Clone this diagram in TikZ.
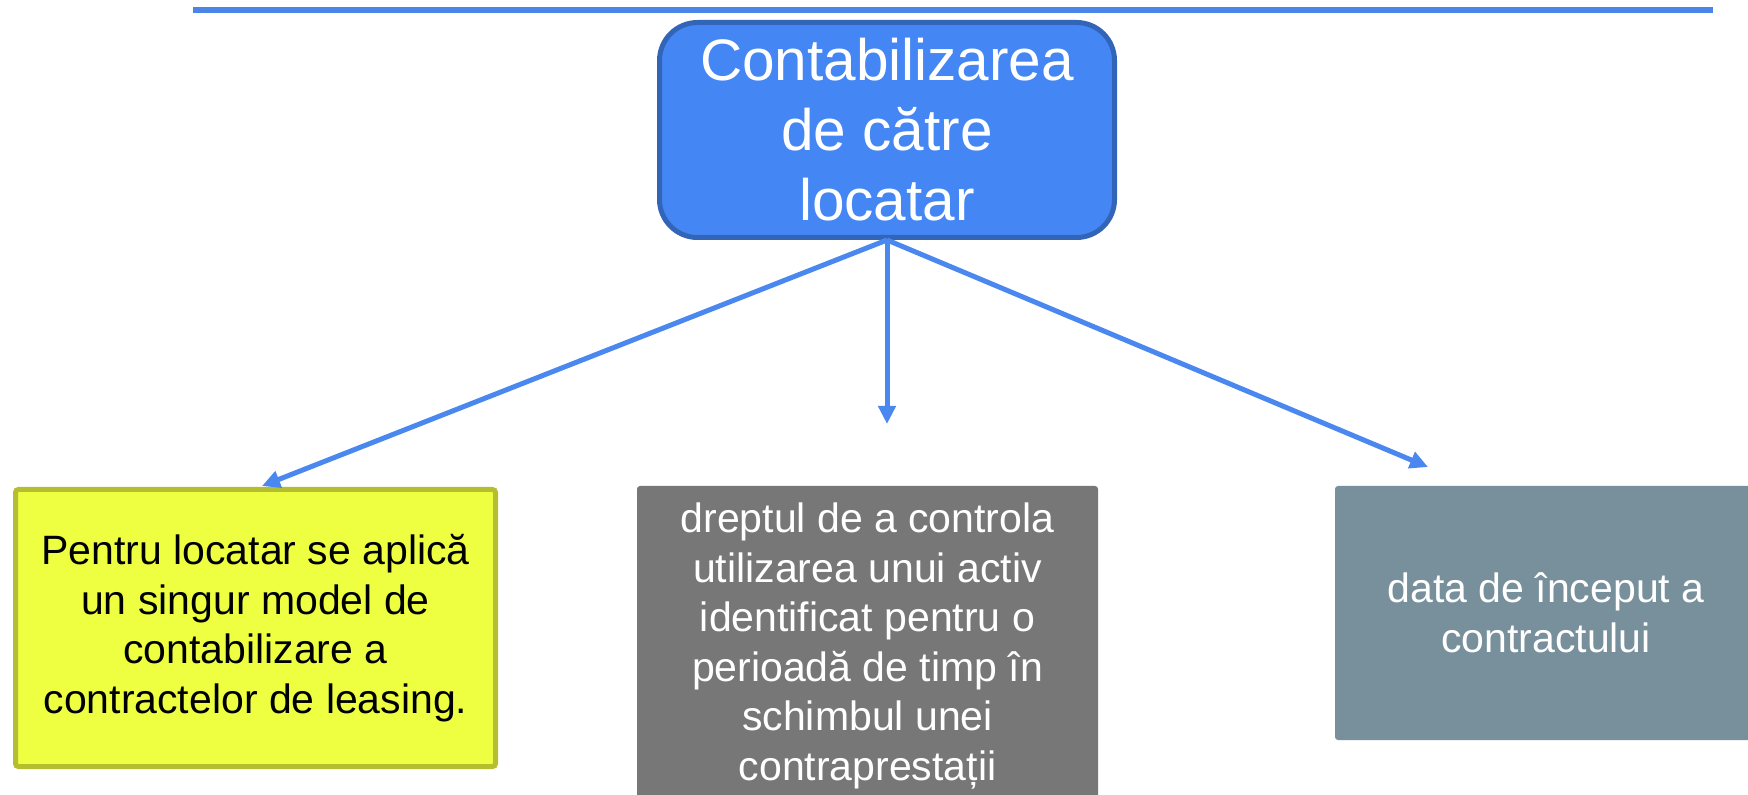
\documentclass[tikz,border=0pt]{standalone}
\usepackage{fontspec}
\setmainfont{Liberation Sans}
\usetikzlibrary{arrows.meta}
\definecolor{lineblue}{HTML}{4A86E8}
\definecolor{arrowblue}{HTML}{4A88F0}
\definecolor{topfill}{HTML}{4487F4}
\definecolor{topborder}{HTML}{3265B8}
\definecolor{limefill}{HTML}{EEFF41}
\definecolor{limeborder}{HTML}{B5BE2F}
\definecolor{greyfill}{HTML}{777777}
\definecolor{bluegreyfill}{HTML}{78909C}
\begin{document}
\begin{tikzpicture}[x=0.5pt,y=-0.5pt,
  conn/.style={draw=arrowblue, line width=2.5pt, -{Triangle[length=9pt,width=8.5pt]}},
  topbox/.style={rectangle, rounded corners=19pt, fill=topfill, draw=topborder, line width=2.5pt,
    text=white, align=center, inner sep=0pt, font=\fontsize{29.25pt}{35pt}\selectfont},
  leafbox/.style={rectangle, rounded corners=1.5pt, align=center, inner sep=0pt,
    font=\fontsize{20.5pt}{24.75pt}\selectfont}]
\useasboundingbox (0,0) rectangle (1748,795);
\draw[lineblue, line width=3pt] (193,10) -- (1713,10);
\node[topbox, minimum width=227.5pt, minimum height=107.5pt] (top) at (887,130)
  {Contabilizarea\\de către\\locatar};
\node[leafbox, fill=limefill, draw=limeborder, line width=2.5pt,
  minimum width=240pt, minimum height=138.5pt] (lease) at (255.5,628)
  {Pentru locatar se aplică\\un singur model de\\contabilizare a\\contractelor de leasing.};
\node[leafbox, fill=greyfill, text=white, minimum width=230.5pt, minimum height=160pt]
  (right) at (867.5,646)
  {dreptul de a controla\\utilizarea unui activ\\identificat pentru o\\perioadă de timp în\\schimbul unei\\contraprestații};
\node[leafbox, fill=bluegreyfill, text=white, minimum width=211pt, minimum height=127pt]
  (start) at (1546,613) {data de început a\\contractului};
\coordinate (tipL) at (262,486);
\coordinate (tipM) at (887,424);
\coordinate (tipR) at (1428,467);
\draw[conn] (top.south) -- (tipL);
\draw[conn] (top.south) -- (tipM);
\draw[conn] (top.south) -- (tipR);
\end{tikzpicture}
\end{document}
